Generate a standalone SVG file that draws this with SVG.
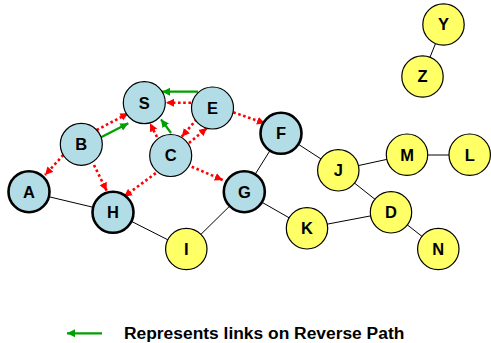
<svg xmlns="http://www.w3.org/2000/svg" width="491" height="343" viewBox="0 0 491 343">
<style>
.blue{fill:#b3dde6;stroke:#000;stroke-width:1.2}
.blue.bold{stroke-width:2.6}
.yel{fill:#ffff66;stroke:#000;stroke-width:1.2}
.lbl{font-family:"Liberation Sans",Arial,sans-serif;font-weight:bold;font-size:16.5px;fill:#000;text-anchor:middle}
.link{stroke:#000;stroke-width:1;fill:none}
.red{stroke:#ff0000;stroke-width:2.6;stroke-dasharray:2.6 2.6;fill:none;marker-end:url(#ra)}
.grn{stroke:#00a000;stroke-width:2.2;fill:none;marker-end:url(#ga)}
.legend{font-family:"Liberation Sans",Arial,sans-serif;font-weight:bold;font-size:17.4px;fill:#000}
</style>
<defs>
<marker id="ra" markerUnits="userSpaceOnUse" markerWidth="9" markerHeight="9" refX="8" refY="4" orient="auto" viewBox="0 0 9 8">
<path d="M0,0 L8,4 L0,8 z" fill="#ff0000"/>
</marker>
<marker id="ga" markerUnits="userSpaceOnUse" markerWidth="9" markerHeight="9" refX="8" refY="4" orient="auto" viewBox="0 0 9 8">
<path d="M0,0 L8,4 L0,8 z" fill="#00a000"/>
</marker>
</defs>
<rect width="491" height="343" fill="#fff"/>
<g id="connectors">
<line class="link" x1="29" y1="192" x2="113" y2="212"/>
<line class="link" x1="113" y1="212" x2="186" y2="249"/>
<line class="link" x1="186" y1="249" x2="244" y2="192"/>
<line class="link" x1="244" y1="192" x2="281" y2="133"/>
<line class="link" x1="281" y1="133" x2="338" y2="170"/>
<line class="link" x1="338" y1="170" x2="407" y2="155"/>
<line class="link" x1="407" y1="155" x2="470" y2="155"/>
<line class="link" x1="338" y1="170" x2="391" y2="212"/>
<line class="link" x1="391" y1="212" x2="307" y2="228"/>
<line class="link" x1="307" y1="228" x2="244" y2="192"/>
<line class="link" x1="391" y1="212" x2="438" y2="249"/>
<line class="link" x1="443" y1="25" x2="422" y2="77"/>
<line class="red" x1="96.7" y1="130" x2="128.3" y2="113.3"/>
<line class="red" x1="63.3" y1="155" x2="45" y2="175"/>
<line class="red" x1="94" y1="165" x2="106.7" y2="190.7"/>
<line class="red" x1="157" y1="137" x2="150" y2="123.3"/>
<line class="red" x1="191" y1="102.7" x2="166" y2="102.7"/>
<line class="red" x1="196.7" y1="119.3" x2="181.7" y2="136.7"/>
<line class="red" x1="189" y1="143" x2="207" y2="128"/>
<line class="red" x1="160" y1="170" x2="124" y2="196.7"/>
<line class="red" x1="191.7" y1="166.7" x2="222.7" y2="180"/>
<line class="red" x1="233.3" y1="112.3" x2="265" y2="123.3"/>
<line class="grn" x1="198" y1="91.7" x2="162" y2="91.7"/>
<line class="grn" x1="97.7" y1="139" x2="128.3" y2="123.3"/>
<line class="grn" x1="171" y1="133" x2="161" y2="119.3"/>
</g>
<g id="node-S"><circle class="blue" cx="144.3" cy="102.7" r="21"/><text class="lbl" x="144.3" y="108.6">S</text></g>
<g id="node-E"><circle class="blue" cx="212.5" cy="108" r="21"/><text class="lbl" x="212.5" y="113.9">E</text></g>
<g id="node-B"><circle class="blue" cx="81.3" cy="144.3" r="21"/><text class="lbl" x="81.3" y="150.2">B</text></g>
<g id="node-C"><circle class="blue" cx="170.7" cy="155.5" r="21"/><text class="lbl" x="170.7" y="161.4">C</text></g>
<g id="node-F"><circle class="blue bold" cx="281" cy="133.3" r="20.5"/><text class="lbl" x="281" y="139.2">F</text></g>
<g id="node-A"><circle class="blue bold" cx="29" cy="191.7" r="20.5"/><text class="lbl" x="29" y="197.6">A</text></g>
<g id="node-H"><circle class="blue bold" cx="113" cy="212.3" r="20.5"/><text class="lbl" x="113" y="218.2">H</text></g>
<g id="node-G"><circle class="blue bold" cx="244.3" cy="191.7" r="20.5"/><text class="lbl" x="244.3" y="197.6">G</text></g>
<g id="node-I"><circle class="yel" cx="186.3" cy="249" r="20.7"/><text class="lbl" x="186.3" y="254.9">I</text></g>
<g id="node-J"><circle class="yel" cx="338.3" cy="170.3" r="20.7"/><text class="lbl" x="338.3" y="176.2">J</text></g>
<g id="node-M"><circle class="yel" cx="407" cy="154.7" r="20.7"/><text class="lbl" x="407" y="160.6">M</text></g>
<g id="node-L"><circle class="yel" cx="469.7" cy="154.7" r="20.7"/><text class="lbl" x="469.7" y="160.6">L</text></g>
<g id="node-D"><circle class="yel" cx="391" cy="212.3" r="20.7"/><text class="lbl" x="391" y="218.2">D</text></g>
<g id="node-K"><circle class="yel" cx="307" cy="228.3" r="20.7"/><text class="lbl" x="307" y="234.2">K</text></g>
<g id="node-N"><circle class="yel" cx="438.3" cy="249" r="20.7"/><text class="lbl" x="438.3" y="254.9">N</text></g>
<g id="node-Y"><circle class="yel" cx="443.5" cy="24.5" r="20.7"/><text class="lbl" x="443.5" y="30.4">Y</text></g>
<g id="node-Z"><circle class="yel" cx="422.5" cy="76.5" r="20.7"/><text class="lbl" x="422.5" y="82.4">Z</text></g>
<g id="legend">
<line class="grn" x1="102" y1="333.3" x2="67" y2="333.3"/>
<text class="legend" x="124" y="338.6">Represents links on Reverse Path</text>
</g>
</svg>
